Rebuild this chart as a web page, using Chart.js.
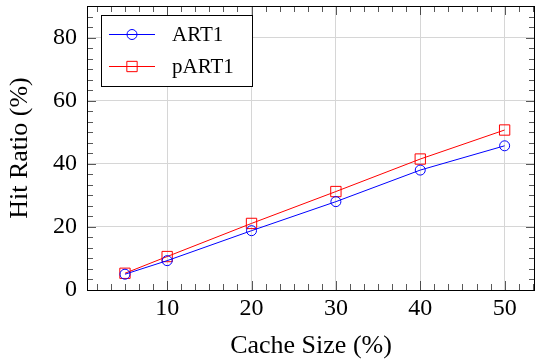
<!DOCTYPE html>
<html>
<head>
<meta charset="utf-8">
<script src="https://cdn.jsdelivr.net/npm/chart.js@4/dist/chart.umd.min.js"></script>
<style>
  html, body { margin: 0; padding: 0; background: #fff; }
  #wrap { width: 536px; height: 362px; }
</style>
</head>
<body>
<div id="wrap"><canvas id="hitChart"></canvas></div>
<script>
"use strict";
{
  // values
  const cacheSizes = [5, 10, 20, 30, 40, 50];
  const art1 = [5.0, 9.3, 18.8, 28.0, 38.0, 45.7];
  const part1 = [5.3, 10.6, 21.1, 31.2, 41.5, 50.7];
  const xTicks = [10, 20, 30, 40, 50];
  const yTicks = [0, 20, 40, 60, 80];

  const serif = "'Liberation Serif', 'DejaVu Serif', serif";

  function toPoints(ys) {
    return cacheSizes.map((x, i) => ({ x: x, y: ys[i] }));
  }

  function noPadding(s) {
    s.paddingTop = 0;
    s.paddingBottom = 0;
    s.paddingLeft = 0;
    s.paddingRight = 0;
  }

  // inward ticks on all four sides, 5 minor ticks between majors, plus the frame
  const frame = {
    id: "frame",
    beforeDatasetsDraw(chart) {
      const ctx = chart.ctx;
      const a = chart.chartArea;
      const xs = chart.scales.x;
      const ys = chart.scales.y;
      ctx.save();
      ctx.lineWidth = 1;
      ctx.strokeStyle = "rgba(0,0,0,0.65)";
      ctx.beginPath();
      for (let i = 0; i <= 40; i++) {
        const v = i * 10 / 6;
        if (v < xs.min || v > xs.max) continue;
        const px = Math.round(xs.getPixelForValue(v)) + 0.5;
        const len = i % 6 === 0 ? 9 : 6;
        ctx.moveTo(px, a.bottom); ctx.lineTo(px, a.bottom - len);
        ctx.moveTo(px, a.top); ctx.lineTo(px, a.top + len);
      }
      for (let i = 0; i <= 30; i++) {
        const v = i * 20 / 6;
        if (v < ys.min || v > ys.max) continue;
        const py = Math.round(ys.getPixelForValue(v)) + 0.5;
        const len = i % 6 === 0 ? 9 : 6;
        ctx.moveTo(a.left, py); ctx.lineTo(a.left + len, py);
        ctx.moveTo(a.right, py); ctx.lineTo(a.right - len, py);
      }
      ctx.stroke();
      ctx.strokeStyle = "#000";
      ctx.strokeRect(Math.round(a.left) + 0.5, Math.round(a.top) + 0.5,
        Math.round(a.right - a.left) - 1, Math.round(a.bottom - a.top));
      ctx.restore();
    }
  };

  const legendBox = {
    id: "legendBox",
    afterDatasetsDraw(chart) {
      const ctx = chart.ctx;
      ctx.save();
      ctx.fillStyle = "#fff";
      ctx.fillRect(101, 15, 151, 71);
      ctx.strokeStyle = "#000";
      ctx.lineWidth = 1;
      ctx.strokeRect(101.5, 15.5, 151, 71);
      chart.data.datasets.forEach((ds, i) => {
        const y = 34 + i * 32;
        ctx.strokeStyle = ds.borderColor;
        ctx.lineWidth = 1;
        ctx.beginPath();
        ctx.moveTo(109, y + 0.5);
        ctx.lineTo(155, y + 0.5);
        ctx.stroke();
        ctx.fillStyle = "rgba(0,0,0,0)";
        Chart.helpers.drawPoint(ctx, {
          pointStyle: ds.pointStyle,
          radius: ds.pointRadius,
          borderWidth: 1,
          rotation: 0
        }, 132, y + 0.5);
        ctx.fillStyle = "#000";
        ctx.font = "21px " + serif;
        ctx.textBaseline = "middle";
        ctx.fillText(ds.label, 172, y + 1);
      });
      ctx.restore();
    }
  };

  new Chart(document.getElementById("hitChart"), {
    type: "line",
    data: {
      datasets: [
        {
          label: "ART1",
          data: toPoints(art1),
          borderColor: "#0000ff",
          backgroundColor: "transparent",
          borderWidth: 1,
          pointStyle: "circle",
          pointRadius: 5,
          pointBorderWidth: 1,
          pointBackgroundColor: "transparent",
          pointBorderColor: "#0000ff"
        },
        {
          label: "pART1",
          data: toPoints(part1),
          borderColor: "#ff0000",
          backgroundColor: "transparent",
          borderWidth: 1,
          pointStyle: "rect",
          pointRadius: 7.3,
          pointBorderWidth: 1,
          pointBackgroundColor: "transparent",
          pointBorderColor: "#ff0000"
        }
      ]
    },
    options: {
      responsive: true,
      maintainAspectRatio: false,
      animation: false,
      events: [],
      layout: { autoPadding: false, padding: { top: 6, right: 1, left: 0, bottom: 0 } },
      plugins: { legend: { display: false }, tooltip: { enabled: false } },
      scales: {
        x: {
          type: "linear",
          min: 0.5,
          max: 53.6,
          afterBuildTicks: (s) => { s.ticks = xTicks.map((v) => ({ value: v })); },
          afterFit: (s) => { s.height = 72; noPadding(s); },
          grid: { color: "#d6d6d6", lineWidth: 1, drawTicks: false },
          border: { display: false },
          ticks: { color: "#000", padding: 4, font: { family: serif, size: 24 } },
          title: {
            display: true,
            text: "Cache Size (%)",
            color: "#000",
            padding: { top: 0, bottom: 0 },
            font: { family: serif, size: 26 }
          }
        },
        y: {
          min: 0,
          max: 90,
          afterBuildTicks: (s) => { s.ticks = yTicks.map((v) => ({ value: v })); },
          afterFit: (s) => { s.width = 87; noPadding(s); },
          grid: { color: "#d6d6d6", lineWidth: 1, drawTicks: false },
          border: { display: false },
          ticks: { color: "#000", padding: 10, font: { family: serif, size: 24 } },
          title: {
            display: true,
            text: "Hit Ratio (%)",
            color: "#000",
            padding: { top: 5, bottom: 0 },
            font: { family: serif, size: 26 }
          }
        }
      }
    },
    plugins: [frame, legendBox]
  });
}
</script>
</body>
</html>
